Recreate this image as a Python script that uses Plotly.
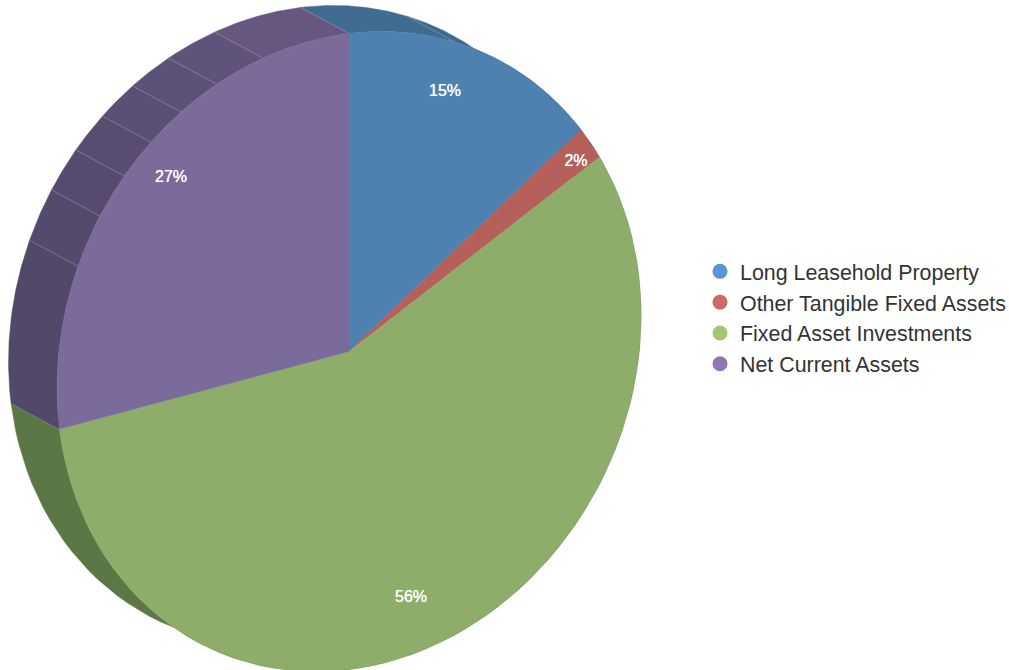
import numpy as np
import plotly.graph_objects as go

CATEGORIES = ["Long Leasehold Property", "Other Tangible Fixed Assets", "Fixed Asset Investments", "Net Current Assets"]
VALUES = [14.6, 1.8, 56.5, 27.1]

FACE_COLORS = ["#4f81b0", "#b5605a", "#8ead6b", "#7b6b9b"]
LEGEND_COLORS = ["#5b95cf", "#cd6a66", "#a2c673", "#8e77b3"]

# Side wall facets: start/end angle in degrees, clockwise from the top of the pie
WALL_ANGLES = [0, 21.5, 60, 262.3, 291.9, 301.5, 309.7, 317.3, 324.9, 333.1, 342.9, 360]
WALL_COLORS = ["#416c91", "#3e6a90", "#5c7746", "#524868", "#544a6c", "#564b6f", "#584d71",
               "#5a4f74", "#5c5177", "#60537b", "#65577f"]

CX, CY = 349.0, 351.5
AX, AY = 292.0, -36.0
BX, BY = 0.0, -318.0
DX, DY = -48.5, -26.0
EDGE = "rgba(255,255,255,0.22)"
FIG_W = 1020  # slightly wider than the window so the legend does not push the plot margin


def pt(deg, dx=0.0, dy=0.0):
    t = np.radians(deg)
    return CX + AX * np.sin(t) + BX * np.cos(t) + dx, CY + AY * np.sin(t) + BY * np.cos(t) + dy


fig = go.Figure()

# side walls
for a0, a1, col in zip(WALL_ANGLES[:-1], WALL_ANGLES[1:], WALL_COLORS):
    t = np.linspace(a0, a1, 80)
    fx, fy = pt(t)
    bx, by = pt(t[::-1], DX, DY)
    fig.add_trace(go.Scatter(x=np.r_[fx, bx, fx[0]], y=np.r_[fy, by, fy[0]], mode="lines", fill="toself",
                             fillcolor=col, line=dict(color=col, width=0.5), hoverinfo="skip", showlegend=False))
for a in WALL_ANGLES[:-1]:
    if a == 60:
        continue
    x0, y0 = pt(a)
    x1, y1 = pt(a, DX, DY)
    fig.add_trace(go.Scatter(x=[x0, x1], y=[y0, y1], mode="lines", line=dict(color=EDGE, width=0.8),
                             hoverinfo="skip", showlegend=False))

# pie faces
edges = np.cumsum([0] + VALUES) / sum(VALUES) * 360
for i, (name, col) in enumerate(zip(CATEGORIES, FACE_COLORS)):
    t = np.linspace(edges[i], edges[i + 1], 200)
    x, y = pt(t)
    fig.add_trace(go.Scatter(x=np.r_[CX, x, CX], y=np.r_[CY, y, CY], mode="lines", fill="toself", fillcolor=col,
                             line=dict(color=col, width=0.5), name=name, hoverinfo="name", showlegend=False))

# value labels
LABEL_X = [445, 576, 411, 171]
LABEL_Y = [92, 162, 598, 178]
fig.add_trace(go.Scatter(x=LABEL_X, y=LABEL_Y, mode="text", text=[f"{v / sum(VALUES) * 100:.0f}%" for v in VALUES],
                         textfont=dict(family="Liberation Sans", size=16, color="white", shadow="0 0 0.7px white"),
                         hoverinfo="skip", showlegend=False))

# legend
for name, col in zip(CATEGORIES, LEGEND_COLORS):
    fig.add_trace(go.Scatter(x=[None], y=[None], mode="markers", name=name,
                             marker=dict(color=col, size=15)))

fig.update_layout(
    width=FIG_W, height=670, margin=dict(l=0, r=0, t=0, b=0), paper_bgcolor="white", plot_bgcolor="white",
    xaxis=dict(range=[0, FIG_W], visible=False, fixedrange=True),
    yaxis=dict(range=[670, 0], visible=False, fixedrange=True),
    legend=dict(x=700 / FIG_W, y=0.5255, xanchor="left", yanchor="middle", itemwidth=30,
                font=dict(family="Liberation Sans", size=21.4, color="#333333"), bgcolor="rgba(0,0,0,0)"),
)
fig.write_html("out.html", config=dict(displayModeBar=False),
               post_script="document.body.style.margin='0';document.documentElement.style.overflow='hidden';document.body.style.overflow='hidden';")
